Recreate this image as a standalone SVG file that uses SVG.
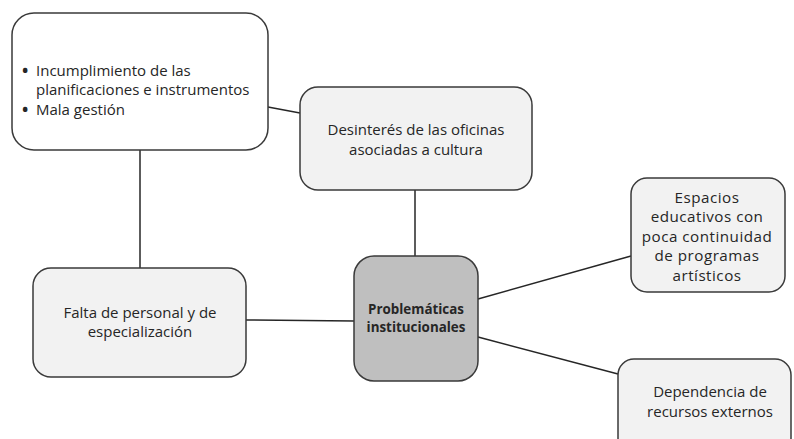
<svg xmlns="http://www.w3.org/2000/svg" width="794" height="439" viewBox="0 0 794 439">
<style>
.box{fill:#f2f2f2;stroke:#3a3a3a;stroke-width:1.5}
.white{fill:#ffffff}
.center{fill:#bfbfbf}
.t{font-family:"Open Sans","Noto Sans",sans-serif;font-size:15px;fill:#262626;text-anchor:middle}
.tl{text-anchor:start}
.bul{font-size:22px}
.big{font-size:15.2px;letter-spacing:0.5px}
.b{font-weight:bold;font-size:13.4px}
.conn line{stroke:#262626;stroke-width:1.5}
</style>
<rect width="794" height="439" fill="#ffffff"/>
<g class="conn" id="connectors">
<line x1="268" y1="107" x2="300" y2="113"/>
<line x1="140" y1="150" x2="140" y2="268"/>
<line x1="415" y1="190" x2="415" y2="256"/>
<line x1="246" y1="320" x2="354" y2="321"/>
<line x1="478" y1="299" x2="631" y2="256"/>
<line x1="478" y1="337" x2="618" y2="374"/>
</g>
<g id="n-incumplimiento">
<rect class="box white" x="12" y="13" width="256" height="137" rx="22"/>
<text class="t tl bul" x="21" y="78">•</text>
<text class="t tl" x="36" y="76">Incumplimiento de las</text>
<text class="t tl" x="36" y="95">planificaciones e instrumentos</text>
<text class="t tl bul" x="21" y="117">•</text>
<text class="t tl" x="36" y="115">Mala gestión</text>
</g>
<g id="n-desinteres">
<rect class="box" x="300" y="87" width="232" height="103" rx="18"/>
<text class="t" x="416" y="135">Desinterés de las oficinas</text>
<text class="t" x="416" y="155">asociadas a cultura</text>
</g>
<g id="n-falta">
<rect class="box" x="33" y="268" width="213" height="109" rx="18"/>
<text class="t" x="140" y="318">Falta de personal y de</text>
<text class="t" x="140" y="337">especialización</text>
</g>
<g id="n-problematicas">
<rect class="box center" x="354" y="256" width="124" height="125" rx="20"/>
<text class="t b" x="416" y="314">Problemáticas</text>
<text class="t b" x="416" y="332">institucionales</text>
</g>
<g id="n-espacios">
<rect class="box" x="631" y="178" width="154" height="114" rx="16"/>
<text class="t big" x="707" y="203">Espacios</text>
<text class="t big" x="707" y="222.4">educativos con</text>
<text class="t big" x="707" y="241.8">poca continuidad</text>
<text class="t big" x="707" y="261.2">de programas</text>
<text class="t big" x="707" y="280.6">artísticos</text>
</g>
<g id="n-dependencia">
<rect class="box" x="618" y="359" width="173" height="95" rx="16"/>
<text class="t" x="710" y="397">Dependencia de</text>
<text class="t" x="710" y="417">recursos externos</text>
</g>
</svg>
